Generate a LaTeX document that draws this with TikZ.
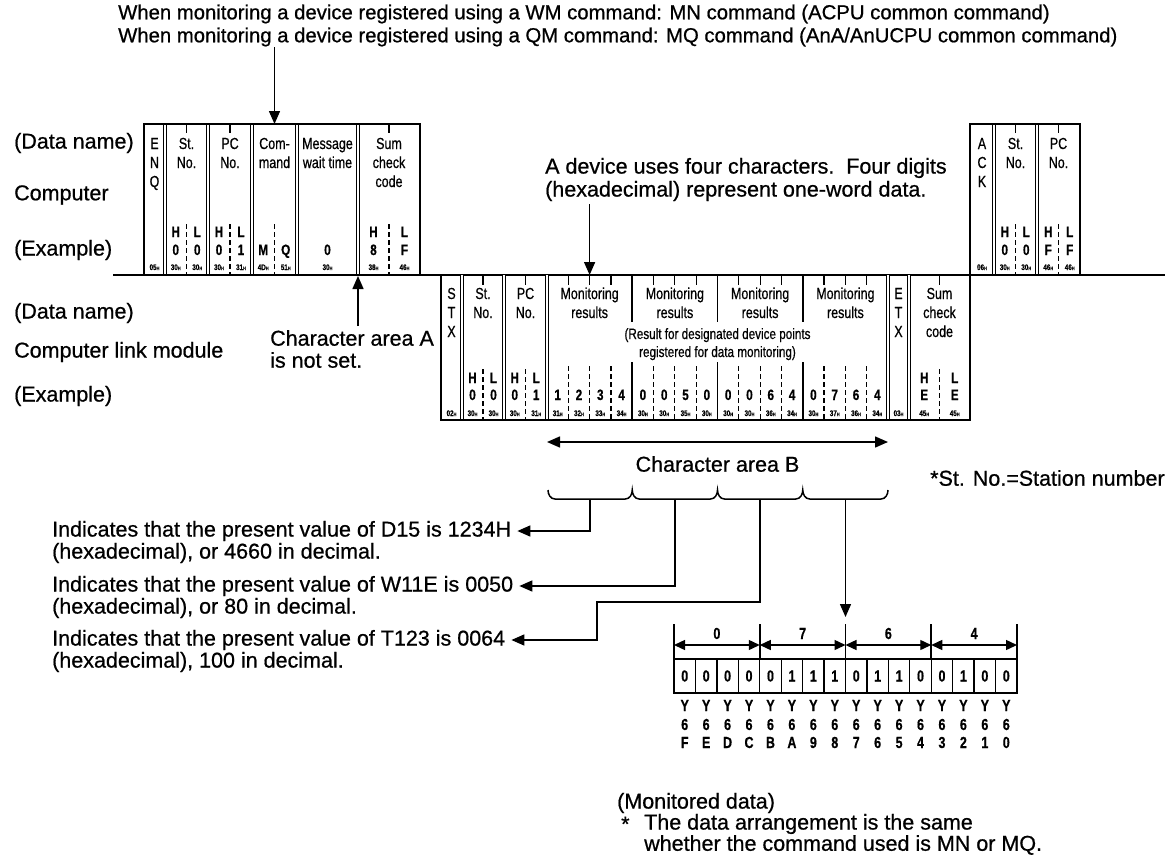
\documentclass[tikz,border=0pt]{standalone}
\usepackage{fontspec}
\setmainfont{Liberation Sans}[FakeBold=0.7]
\newfontfamily\condf[FakeStretch=0.78,FakeBold=0.6]{Liberation Sans}
\usetikzlibrary{arrows.meta}
\newcommand\hx[1]{#1{\fontsize{5}{5}\selectfont H}}
\tikzset{
  lbl/.style={anchor=west,inner sep=0pt,font=\fontsize{21.5}{25}\selectfont},
  ttl/.style={anchor=west,inner sep=0pt,font=\fontsize{20.3}{24}\selectfont},
  hdr/.style={anchor=base,inner sep=0pt,font=\condf\fontsize{16}{19}\selectfont},
  rhdr/.style={anchor=base,inner sep=0pt,font=\condf\fontsize{15}{18}\selectfont},
  val/.style={anchor=base,inner sep=0pt,font=\condf\bfseries\fontsize{15}{17}\selectfont},
  hexl/.style={anchor=base,inner sep=0pt,font=\condf\bfseries\fontsize{8}{9}\selectfont},
  frm/.style={line width=1.7pt},
  sep/.style={line width=1.1pt,double distance=1.3pt},
  dsh/.style={line width=1.2pt,dash pattern=on 5pt off 3pt},
  tck/.style={line width=1.2pt},
  arr/.style={line width=1.5pt,-{Triangle[length=13pt,width=11pt]}},
  darr/.style={line width=1.5pt,{Triangle[length=13pt,width=11pt]}-{Triangle[length=13pt,width=11pt]}},
  sarr/.style={line width=1.4pt,{Triangle[length=11pt,width=10pt]}-{Triangle[length=11pt,width=10pt]}},
  bitbox/.style={draw,line width=1.3pt,minimum width=21.4375pt,minimum height=34pt,inner sep=0pt,font=\condf\bfseries\fontsize{16}{18}\selectfont},
  bitl/.style={anchor=base,inner sep=0pt,font=\condf\bfseries\fontsize{16}{18}\selectfont},
}
\begin{document}
\begin{tikzpicture}[x=1pt,y=-1pt]
\useasboundingbox (0,0) rectangle (1168,857);

% ---------- title ----------
\node[ttl] (t1) at (118,14) {When monitoring a device registered using a WM command: MN command (ACPU common command)};
\node[ttl] (t2) at (118,37) {When monitoring a device registered using a QM command: MQ command (AnA/AnUCPU common command)};

% ---------- row labels ----------
\node[lbl] (dn1) at (14,143) {(Data name)};
\node[lbl] (cmp) at (14,195) {Computer};
\node[lbl] (ex1) at (14,250) {(Example)};
\node[lbl] (dn2) at (14,313) {(Data name)};
\node[lbl] (clm) at (14,352) {Computer link module};
\node[lbl] (ex2) at (14,396) {(Example)};

% ---------- computer frame ----------
\foreach \x in {165,208,252,297,358} \draw[sep] (\x,124) -- (\x,275);
\draw[frm] (144,275) |- (420,124) -- (420,275);
\foreach \x in {186.5,230,389} \draw[tck] (\x,124) -- (\x,133);
\foreach \x in {186.5,230,274.5,389} \draw[dsh] (\x,224) -- (\x,275);
% ACK frame
\foreach \x in {994,1037} \draw[sep] (\x,124) -- (\x,275);
\draw[frm] (970,275) |- (1080,124) -- (1080,275);
\foreach \x in {1015.5,1058.5} {\draw[tck] (\x,124) -- (\x,133); \draw[dsh] (\x,224) -- (\x,275);}

% baseline
\draw[frm] (113,275) -- (1165,275);

% computer headers
\node[hdr] (enq1) at (154.5,149) {E};
\node[hdr] (enq2) at (154.5,168) {N};
\node[hdr] (enq3) at (154.5,187) {Q};
\node[hdr] (cst1) at (186.5,149) {St.};
\node[hdr] (cst2) at (186.5,168) {No.};
\node[hdr] (cpc1) at (230,149) {PC};
\node[hdr] (cpc2) at (230,168) {No.};
\node[hdr] (ccm1) at (274.5,149) {Com-};
\node[hdr] (ccm2) at (274.5,168) {mand};
\node[hdr] (cmw1) at (327.5,149) {Message};
\node[hdr] (cmw2) at (327.5,168) {wait time};
\node[hdr] (csc1) at (389,149) {Sum};
\node[hdr] (csc2) at (389,168) {check};
\node[hdr] (csc3) at (389,187) {code};
\node[hdr] (ack1) at (982,149) {A};
\node[hdr] (ack2) at (982,168) {C};
\node[hdr] (ack3) at (982,187) {K};
\node[hdr] (ast1) at (1015.5,149) {St.};
\node[hdr] (ast2) at (1015.5,168) {No.};
\node[hdr] (apc1) at (1058.5,149) {PC};
\node[hdr] (apc2) at (1058.5,168) {No.};

% computer examples
\foreach \n/\x/\a/\b/\c in {cs1/175.75/H/0/30, cs2/197.25/L/0/30, cp1/219/H/0/30, cp2/241/L/1/31, cc1/373.5/H/8/38, cc2/404.5/L/F/46, ak1/1004.75/H/0/30, ak2/1026.25/L/0/30, ak3/1048.25/H/F/46, ak4/1069.75/L/F/46} {
  \node[val] (\n-h) at (\x,237) {\a};
  \node[val] (\n-v) at (\x,255) {\b};
  \node[hexl] (\n-x) at (\x,270) {\hx{\c}};
}
\node[val] (cm-v) at (263.25,255) {M};
\node[val] (cq-v) at (285.75,255) {Q};
\node[hexl] (cm-x) at (263.25,270) {\hx{4D}};
\node[hexl] (cq-x) at (285.75,270) {\hx{51}};
\node[val] (mw-v) at (327.5,255) {0};
\node[hexl] (mw-x) at (327.5,270) {\hx{30}};
\node[hexl] (enq-x) at (154.5,270) {\hx{05}};
\node[hexl] (ack-x) at (982,270) {\hx{06}};

% command arrow
\coordinate (cmdsrc) at (274.5,47);
\coordinate (cmdtop) at (274.5,124);
\draw[arr] (cmdsrc) -- (cmdtop);

% ---------- link frame ----------
\foreach \x in {462,504,547,888,909} \draw[sep] (\x,275) -- (\x,420);
\draw[frm] (441,275) |- (970,420) -- (970,275);
\foreach \x in {632.25,717.5,802.75} {\draw[frm] (\x,275) -- (\x,322); \draw[frm] (\x,362) -- (\x,420);}
\foreach \x in {483,525.5,939.5} {\draw[tck] (\x,275) -- (\x,285); \draw[dsh] (\x,369) -- (\x,420);}
\foreach \k in {1,2,3,5,6,7,9,10,11,13,14,15} {\draw[tck] ({547+21.3125*\k},275) -- ++(0,10); \draw[dsh] ({547+21.3125*\k},366) -- ++(0,54);}

\node[hdr] (stx1) at (451.5,299) {S};
\node[hdr] (stx2) at (451.5,318) {T};
\node[hdr] (stx3) at (451.5,337) {X};
\node[hdr] (lst1) at (483,299) {St.};
\node[hdr] (lst2) at (483,318) {No.};
\node[hdr] (lpc1) at (525.5,299) {PC};
\node[hdr] (lpc2) at (525.5,318) {No.};
\foreach \x [count=\m] in {589.6,674.9,760.1,845.4} {
  \node[hdr] (mon\m a) at (\x,299) {Monitoring};
  \node[hdr] (mon\m b) at (\x,318) {results};
}
\node[rhdr] (res1) at (717.5,339) {(Result for designated device points};
\node[rhdr] (res2) at (717.5,357) {registered for data monitoring)};
\node[hdr] (etx1) at (898.5,299) {E};
\node[hdr] (etx2) at (898.5,318) {T};
\node[hdr] (etx3) at (898.5,337) {X};
\node[hdr] (lsc1) at (939.5,299) {Sum};
\node[hdr] (lsc2) at (939.5,318) {check};
\node[hdr] (lsc3) at (939.5,337) {code};

\foreach \n/\x/\a/\b/\c in {ls1/472.5/H/0/30, ls2/493.5/L/0/30, lp1/514.75/H/0/30, lp2/536.25/L/1/31, le1/924.25/H/E/45, le2/954.75/L/E/45} {
  \node[val] (\n-h) at (\x,383) {\a};
  \node[val] (\n-v) at (\x,400) {\b};
  \node[hexl] (\n-x) at (\x,416) {\hx{\c}};
}
\foreach \k/\v/\c in {0/1/31,1/2/32,2/3/33,3/4/34,4/0/30,5/0/30,6/5/35,7/0/30,8/0/30,9/0/30,10/6/36,11/4/34,12/0/30,13/7/37,14/6/36,15/4/34} {
  \node[val] (mv\k) at ({547+21.3125*(\k+0.5)},400) {\v};
  \node[hexl] (mx\k) at ({547+21.3125*(\k+0.5)},416) {\hx{\c}};
}
\node[hexl] (stx-x) at (451.5,416) {\hx{02}};
\node[hexl] (etx-x) at (898.5,416) {\hx{03}};

% ---------- annotations ----------
\node[lbl] (dev1) at (545,168) {A device uses four characters.\ \ Four digits};
\node[lbl] (dev2) at (545,191) {(hexadecimal) represent one-word data.};
\coordinate (devsrc) at (589.6,204);
\coordinate (devtip) at (589.6,275);
\draw[arr] (devsrc) -- (devtip);

\node[lbl] (caA1) at (270,338) {Character area A};
\node[lbl] (caA2) at (270,360) {is not set.};
\coordinate (caAsrc) at (358,326);
\coordinate (caAtip) at (358,276);
\draw[arr] (caAsrc) -- (caAtip);

\coordinate (cbl) at (547,442);
\coordinate (cbr) at (888,442);
\draw[darr] (cbl) -- (cbr);
\node[font=\fontsize{21.5}{25}\selectfont,inner sep=0pt] (caB) at (717.5,464) {Character area B};
\node[lbl] (stn) at (930,478) {*St. No.=Station number};

% braces
\draw[line width=1.5pt] (548,490) to[out=-90,in=180] (555,499) -- (625.25,499) to[out=0,in=-90] (632.25,490)
  to[out=-90,in=180] (639.25,499) -- (710.5,499) to[out=0,in=-90] (717.5,490)
  to[out=-90,in=180] (724.5,499) -- (795.75,499) to[out=0,in=-90] (802.75,490)
  to[out=-90,in=180] (809.75,499) -- (881,499) to[out=0,in=-90] (888,490);
\coordinate (b1) at (590.1,499);
\coordinate (b2) at (674.9,499);
\coordinate (b3) at (760.1,499);
\coordinate (b4) at (845.5,499);

% explanation texts
\node[lbl] (r1) at (52,531) {Indicates that the present value of D15 is 1234H};
\node[lbl] (r2) at (52,553) {(hexadecimal), or 4660 in decimal.};
\node[lbl] (r3) at (52,586) {Indicates that the present value of W11E is 0050};
\node[lbl] (r4) at (52,608) {(hexadecimal), or 80 in decimal.};
\node[lbl] (r5) at (52,640) {Indicates that the present value of T123 is 0064};
\node[lbl] (r6) at (52,662) {(hexadecimal), 100 in decimal.};

\draw[arr] (b1) |- ([xshift=6pt]r1.east);
\draw[arr] (b2) |- ([xshift=6pt]r3.east);
\coordinate (k3a) at (760.1,602);
\coordinate (k3b) at (597,602);
\draw[arr] (b3) -- (k3a) -- (k3b) |- ([xshift=6pt]r5.east);
\coordinate (b4tip) at (845.5,617);
\draw[arr] (b4) -- (b4tip);

% ---------- bit diagram ----------
\foreach \b [count=\i from 0] in {0,0,0,0,0,1,1,1,0,1,1,0,0,1,0,0} {
  \node[bitbox] (bit\i) at ({674+21.4375*(\i+0.5)},676) {\b};
}
\foreach \l [count=\i from 0] in {F,E,D,C,B,A,9,8,7,6,5,4,3,2,1,0} {
  \node[bitl] (y\i) at ({674+21.4375*(\i+0.5)},711) {Y};
  \node[bitl] (s\i) at ({674+21.4375*(\i+0.5)},730) {6};
  \node[bitl] (l\i) at ({674+21.4375*(\i+0.5)},748) {\l};
}
\foreach \x in {674,759.75,845.5,931.25,1017} \draw[frm] (\x,624) -- (\x,659);
\foreach \a/\c/\t [count=\n] in {674/759.75/0,759.75/845.5/7,845.5/931.25/6,931.25/1017/4} {
  \draw[sarr] (\a,645) -- (\c,645);
  \node[bitl] (nib\n) at ({(\a+\c)/2},639) {\t};
}

% ---------- bottom note ----------
\node[lbl] (md) at (617,803) {(Monitored data)};
\node[lbl] (ast) at (621,824) {*};
\node[lbl] (nt1) at (644,824) {The data arrangement is the same};
\node[lbl] (nt2) at (644,845) {whether the command used is MN or MQ.};
\end{tikzpicture}
\end{document}
